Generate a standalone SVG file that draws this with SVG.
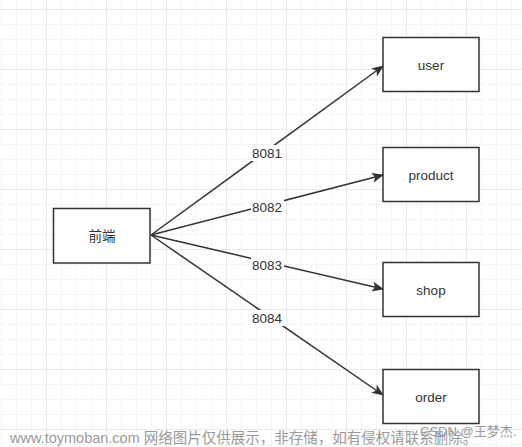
<svg xmlns="http://www.w3.org/2000/svg" width="522" height="447" viewBox="0 0 522 447">
<defs>
<pattern id="gs" width="15" height="15" patternUnits="userSpaceOnUse" x="1" y="9">
<path d="M0 0H15M0 0V15" fill="none" stroke="#ececec" stroke-width="1"/>
</pattern>
<pattern id="gl" width="60" height="60" patternUnits="userSpaceOnUse" x="46" y="9">
<path d="M0 0H60M0 0V60" fill="none" stroke="#e0e0e0" stroke-width="1"/>
</pattern>
<marker id="ah" viewBox="0 0 12 10" refX="11" refY="5" markerWidth="12" markerHeight="10" markerUnits="userSpaceOnUse" orient="auto">
<path d="M0 0L12 5L0 10L3 5Z" fill="#333"/>
</marker>
<style>
.box{fill:#fff;stroke:#333;stroke-width:1.5}
.t{font-family:"Liberation Sans","Noto Sans CJK SC",sans-serif;font-size:13.5px;fill:#333;text-anchor:middle;dominant-baseline:central}
.lbl{fill:#fff}
.edge{fill:none;stroke:#333;stroke-width:1.5;marker-end:url(#ah)}
.wm{font-family:"Liberation Sans","Noto Sans CJK SC",sans-serif;fill:#9a9a9a}
</style>
</defs>
<rect width="522" height="447" fill="#fff"/>
<rect width="522" height="447" fill="url(#gs)"/>
<rect width="522" height="447" fill="url(#gl)"/>
<g id="edges">
<path class="edge" d="M151 235L383 66"/>
<path class="edge" d="M151 235L383 175"/>
<path class="edge" d="M151 235L383 289"/>
<path class="edge" d="M151 235L383 395"/>
<rect class="lbl" x="251" y="145" width="33" height="16"/>
<text class="t" x="267" y="153">8081</text>
<rect class="lbl" x="251" y="199" width="33" height="16"/>
<text class="t" x="267" y="207">8082</text>
<rect class="lbl" x="251" y="257" width="33" height="16"/>
<text class="t" x="267" y="265">8083</text>
<rect class="lbl" x="251" y="310" width="33" height="16"/>
<text class="t" x="267" y="318">8084</text>
</g>
<g id="frontend">
<rect class="box" x="53.5" y="208.5" width="96.5" height="54.5"/>
<text class="t" x="102" y="236">前端</text>
</g>
<g id="user">
<rect class="box" x="383" y="37.5" width="96" height="54"/>
<text class="t" x="431" y="65">user</text>
</g>
<g id="product">
<rect class="box" x="383" y="147.5" width="96" height="54"/>
<text class="t" x="431" y="175">product</text>
</g>
<g id="shop">
<rect class="box" x="383" y="262.5" width="96" height="54"/>
<text class="t" x="431" y="290">shop</text>
</g>
<g id="order">
<rect class="box" x="383" y="369.5" width="96" height="54"/>
<text class="t" x="431" y="397">order</text>
</g>
<text class="wm" x="420" y="436" style="font-size:13px">CSDN @王梦杰.</text>
<text class="wm" x="10" y="443" style="font-size:14.5px">www.toymoban.com 网络图片仅供展示，非存储，如有侵权请联系删除。</text>
</svg>
